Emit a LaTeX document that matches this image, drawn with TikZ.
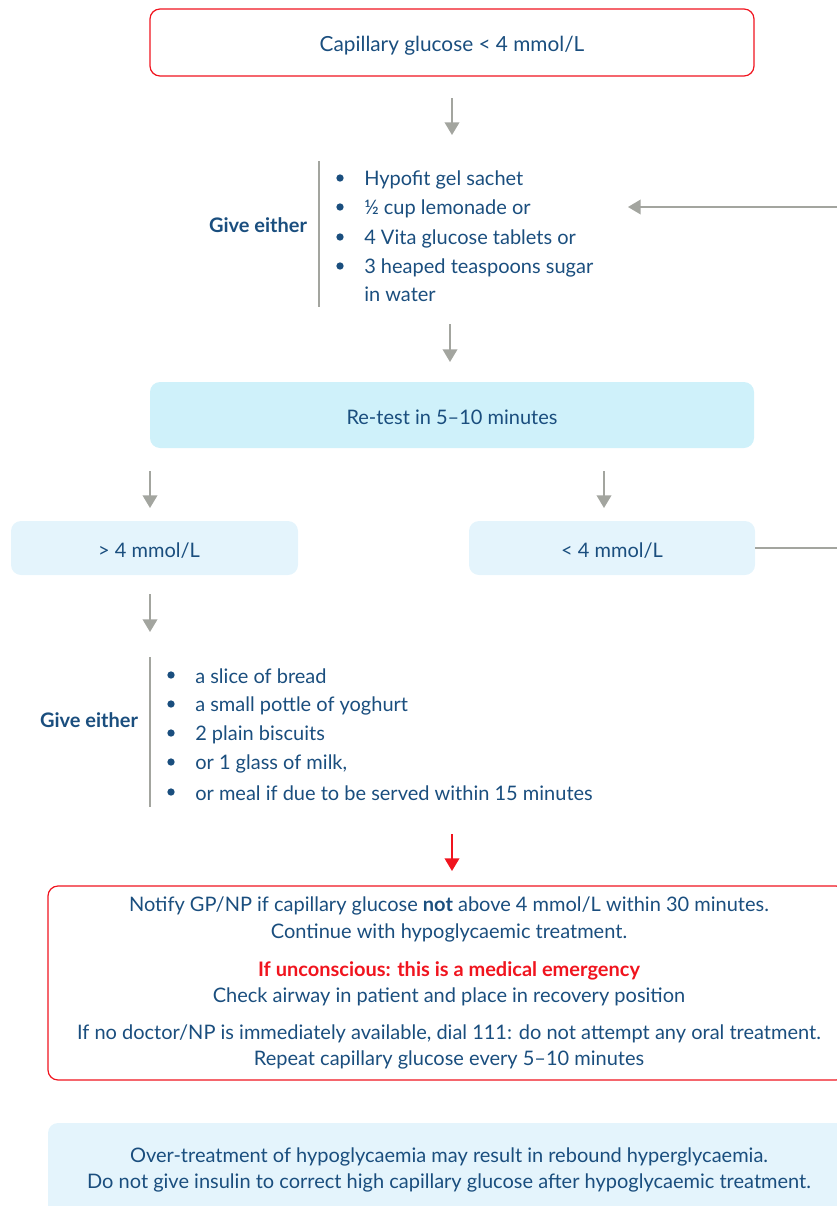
\documentclass[tikz,border=0pt]{standalone}
\usepackage{fontspec}
\setmainfont{Lato}
\usetikzlibrary{arrows.meta}
\definecolor{txt}{HTML}{1A4E7E}
\definecolor{redc}{HTML}{F0141E}
\definecolor{grayc}{HTML}{A3A59F}
\definecolor{cyanA}{HTML}{CFF1FA}
\definecolor{cyanB}{HTML}{E4F4FC}
\begin{document}
\begin{tikzpicture}[x=0.75pt,y=-0.75pt,
  every node/.style={font=\fontsize{15}{18}\selectfont, text=txt, inner sep=0pt},
  tn/.style={yshift=-1.2pt},
  redbox/.style={draw=redc, line width=0.9pt, rounded corners=7.5pt},
  bluebox/.style={fill=cyanA, rounded corners=7.5pt},
  paleblue/.style={fill=cyanB, rounded corners=7.5pt},
  arr/.style={draw=grayc, line width=1.2pt, -{Triangle[length=9.5pt,width=11pt]}},
  rarr/.style={draw=redc, line width=1.2pt, -{Triangle[length=9.5pt,width=11pt]}},
  sep/.style={draw=grayc, line width=0.9pt},
  item/.style={anchor=west, tn},
  bul/.style={circle, fill=txt, minimum size=5.5pt}
]
\useasboundingbox (0,0) rectangle (837,1206);
\clip (0,0) rectangle (837,1206);

% top box
\node[redbox, minimum width=453pt, minimum height=50.25pt] (top) at (452,42.5) {};
\node[tn, font=\fontsize{15.6}{18}\selectfont] (toptxt) at (452,44) {Capillary glucose < 4 mmol/L};

\coordinate (a1s) at (452,98);
\coordinate (a1e) at (452,135);
\draw[arr] (a1s) -- (a1e);

% first list
\node[tn, font=\fontsize{15}{18}\selectfont\bfseries] (give1) at (258,224) {Give either};
\coordinate (v1a) at (319,161);
\coordinate (v1b) at (319,307);
\draw[sep] (v1a) -- (v1b);
\foreach \y/\t [count=\i] in {178/Hypofit gel sachet, 207/½ cup lemonade or, 237/4 Vita glucose tablets or, 266/3 heaped teaspoons sugar}{
  \node[bul] (b1\i) at (340,\y) {};
  \node[item] (l1\i) at (364,\y) {\t};
}
\node[item] (l15) at (364,293) {in water};

\coordinate (a2s) at (450,324);
\coordinate (a2e) at (450,362);
\draw[arr] (a2s) -- (a2e);

% retest
\node[bluebox, minimum width=453pt, minimum height=49.5pt] (retest) at (452,415) {};
\node[tn] (retesttxt) at (452,416) {Re-test in 5–10 minutes};

\coordinate (a3s) at (150,471);
\coordinate (a3e) at (150,508);
\draw[arr] (a3s) -- (a3e);
\coordinate (a4s) at (604,471);
\coordinate (a4e) at (604,508);
\draw[arr] (a4s) -- (a4e);

\node[paleblue, minimum width=215.25pt, minimum height=40.5pt] (gt) at (154.5,548) {};
\node[tn] (gttxt) at (149,549) {> 4 mmol/L};
\node[paleblue, minimum width=214.5pt, minimum height=40.5pt] (lt) at (612,548) {};
\node[tn] (lttxt) at (612,549) {< 4 mmol/L};

% loop back
\coordinate (rt1) at (845,548);
\coordinate (rt2) at (845,207);
\coordinate (rt3) at (628,207);
\draw[sep] (lt.east) -- (rt1) -- (rt2);
\draw[arr] (rt2) -- (rt3);

\coordinate (a5s) at (150,594);
\coordinate (a5e) at (150,632);
\draw[arr] (a5s) -- (a5e);

% second list
\node[tn, font=\fontsize{15}{18}\selectfont\bfseries] (give2) at (89,719) {Give either};
\coordinate (v2a) at (150,657);
\coordinate (v2b) at (150,807);
\draw[sep] (v2a) -- (v2b);
\foreach \y/\t [count=\i] in {675/a slice of bread, 704/a small pottle of yoghurt, 733/2 plain biscuits, 762/{or 1 glass of milk,}, 792/or meal if due to be served within 15 minutes}{
  \node[bul] (b2\i) at (171,\y) {};
  \node[item] (l2\i) at (195,\y) {\t};
}

\coordinate (a6s) at (452,834);
\coordinate (a6e) at (452,871);
\draw[rarr] (a6s) -- (a6e);

% red box
\node[redbox, minimum width=598.5pt, minimum height=145.5pt] (emerg) at (447,983) {};
\node[tn] (e1) at (449,904) {Notify GP/NP if capillary glucose \textbf{not} above 4 mmol/L within 30 minutes.};
\node[tn] (e2) at (449,931) {Continue with hypoglycaemic treatment.};
\node[tn, text=redc, font=\fontsize{15}{18}\selectfont\bfseries] (e3) at (449,969) {If unconscious: this is a medical emergency};
\node[tn] (e4) at (449,995) {Check airway in patient and place in recovery position};
\node[tn] (e5) at (449,1032) {If no doctor/NP is immediately available, dial 111: do not attempt any oral treatment.};
\node[tn] (e6) at (449,1058) {Repeat capillary glucose every 5–10 minutes};

% bottom box
\node[paleblue, minimum width=598.5pt, minimum height=69pt] (note) at (447,1169) {};
\node[tn] (n1) at (449,1155) {Over-treatment of hypoglycaemia may result in rebound hyperglycaemia.};
\node[tn] (n2) at (449,1181) {Do not give insulin to correct high capillary glucose after hypoglycaemic treatment.};
\end{tikzpicture}
\end{document}
